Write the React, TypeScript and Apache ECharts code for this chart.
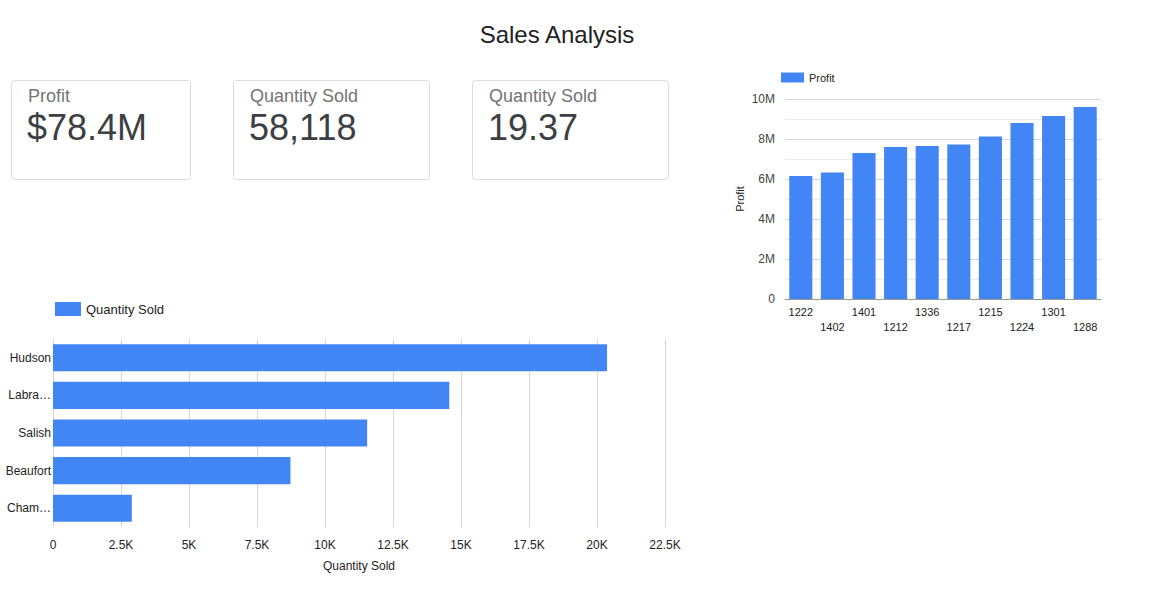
import React, { useEffect, useRef } from "react";
import * as echarts from "echarts";

// Profit per store (right-hand column chart)
const storeIds = ["1222", "1402", "1401", "1212", "1336", "1217", "1215", "1224", "1301", "1288"];
const storeProfit = [6150000, 6320000, 7300000, 7600000, 7650000, 7730000, 8130000, 8800000, 9150000, 9600000];

// Quantity sold per region (bottom-left bar chart)
const regions = ["Hudson", "Labrador", "Salish", "Beaufort", "Champlain"];
const regionQuantity = [20370, 14570, 11550, 8730, 2898];

// Scorecards
const cardLabels = ["Profit", "Quantity Sold", "Quantity Sold"];
const cardValues = ["$78.4M", "58,118", "19.37"];

const FONT = 'Arial, "Liberation Sans", sans-serif';
const BLUE = "#4285f4";

function fmtShort(v: number): string {
  if (v === 0) return "0";
  if (Math.abs(v) >= 1e6) return v / 1e6 + "M";
  if (Math.abs(v) >= 1e3) return v / 1e3 + "K";
  return String(v);
}

export default function App() {
  const ref = useRef<HTMLDivElement>(null);

  useEffect(() => {
    if (!ref.current) return;
    const chart = echarts.init(ref.current, undefined, { renderer: "svg" });

    const cardBoxes = [
      { x: 11, w: 179 },
      { x: 233, w: 196 },
      { x: 472, w: 196 },
    ];
    const cards: any[] = [];
    cardBoxes.forEach((b, i) => {
      cards.push({
        type: "rect",
        shape: { x: b.x + 0.5, y: 80.5, width: b.w, height: 99, r: 3 },
        style: { fill: "#fff", stroke: "#dadce0", lineWidth: 1 },
        z: 1,
      });
      cards.push({
        type: "text",
        x: b.x + 17,
        y: 96,
        style: {
          text: cardLabels[i],
          font: `18px ${FONT}`,
          fill: "#757575",
          textVerticalAlign: "middle",
        },
        z: 2,
      });
      cards.push({
        type: "text",
        x: b.x + 16,
        y: 127,
        style: {
          text: cardValues[i],
          font: `36px ${FONT}`,
          fill: "#3c4043",
          textVerticalAlign: "middle",
        },
        z: 2,
      });
    });

    chart.setOption({
      animation: false,
      textStyle: { fontFamily: FONT },
      graphic: [
        {
          type: "text",
          x: 557,
          y: 34,
          style: {
            text: "Sales Analysis",
            font: `24px ${FONT}`,
            fill: "#222",
            textAlign: "center",
            textVerticalAlign: "middle",
          },
        },
        ...cards,
      ],
      legend: [
        {
          data: ["Quantity Sold"],
          left: 55,
          top: 302,
          icon: "rect",
          itemWidth: 26,
          itemHeight: 14,
          padding: 0,
          textStyle: { fontSize: 13, color: "#222", fontFamily: FONT },
        },
        {
          data: ["Profit"],
          left: 781,
          top: 72,
          icon: "rect",
          itemWidth: 23,
          itemHeight: 10,
          padding: 0,
          textStyle: { fontSize: 11, color: "#222", fontFamily: FONT },
        },
      ],
      grid: [
        { left: 53, top: 339, width: 612, height: 188, containLabel: false },
        { left: 785, top: 99, width: 316, height: 200, containLabel: false },
      ],
      xAxis: [
        {
          type: "value",
          gridIndex: 0,
          min: 0,
          max: 22500,
          interval: 2500,
          name: "Quantity Sold",
          nameLocation: "middle",
          nameGap: 33,
          nameTextStyle: { fontSize: 12, color: "#222" },
          axisLine: { show: false },
          axisTick: { show: false },
          axisLabel: { fontSize: 12, color: "#222", margin: 12, formatter: fmtShort },
          splitLine: { show: true, lineStyle: { color: "#d6d6d6", width: 1 } },
        },
        {
          type: "category",
          gridIndex: 1,
          data: storeIds,
          axisLine: { show: true, lineStyle: { color: "#9a9a9a" } },
          axisTick: { show: false },
          axisLabel: {
            interval: 0,
            fontSize: 11,
            color: "#222",
            margin: 5,
            lineHeight: 15,
            formatter: (v: string, i: number) => (i % 2 === 1 ? "\n" + v : v),
          },
        },
      ],
      yAxis: [
        {
          type: "category",
          gridIndex: 0,
          data: regions,
          inverse: true,
          axisLine: { show: false },
          axisTick: { show: false },
          axisLabel: {
            fontSize: 12,
            color: "#222",
            margin: 2,
            width: 47,
            overflow: "truncate",
            ellipsis: "…",
          },
        },
        {
          type: "value",
          gridIndex: 1,
          min: 0,
          max: 10000000,
          interval: 2000000,
          name: "Profit",
          nameLocation: "middle",
          nameGap: 40,
          nameTextStyle: { fontSize: 11, color: "#222" },
          axisLine: { show: false },
          axisTick: { show: false },
          axisLabel: { fontSize: 12, color: "#444", margin: 10, formatter: fmtShort },
          splitLine: { show: true, lineStyle: { color: "#d6d6d6" } },
          minorTick: { show: false, splitNumber: 2 },
          minorSplitLine: { show: true, lineStyle: { color: "#ececec" } },
        },
      ],
      series: [
        {
          name: "Quantity Sold",
          type: "bar",
          xAxisIndex: 0,
          yAxisIndex: 0,
          data: regionQuantity,
          barCategoryGap: "28%",
          itemStyle: { color: BLUE },
        },
        {
          name: "Profit",
          type: "bar",
          xAxisIndex: 1,
          yAxisIndex: 1,
          data: storeProfit,
          barCategoryGap: "27%",
          itemStyle: { color: BLUE },
        },
      ],
    });

    return () => chart.dispose();
  }, []);

  return (
    <div
      ref={ref}
      style={{ position: "fixed", left: 0, top: 0, width: 1172, height: 616, background: "#fff" }}
    />
  );
}
